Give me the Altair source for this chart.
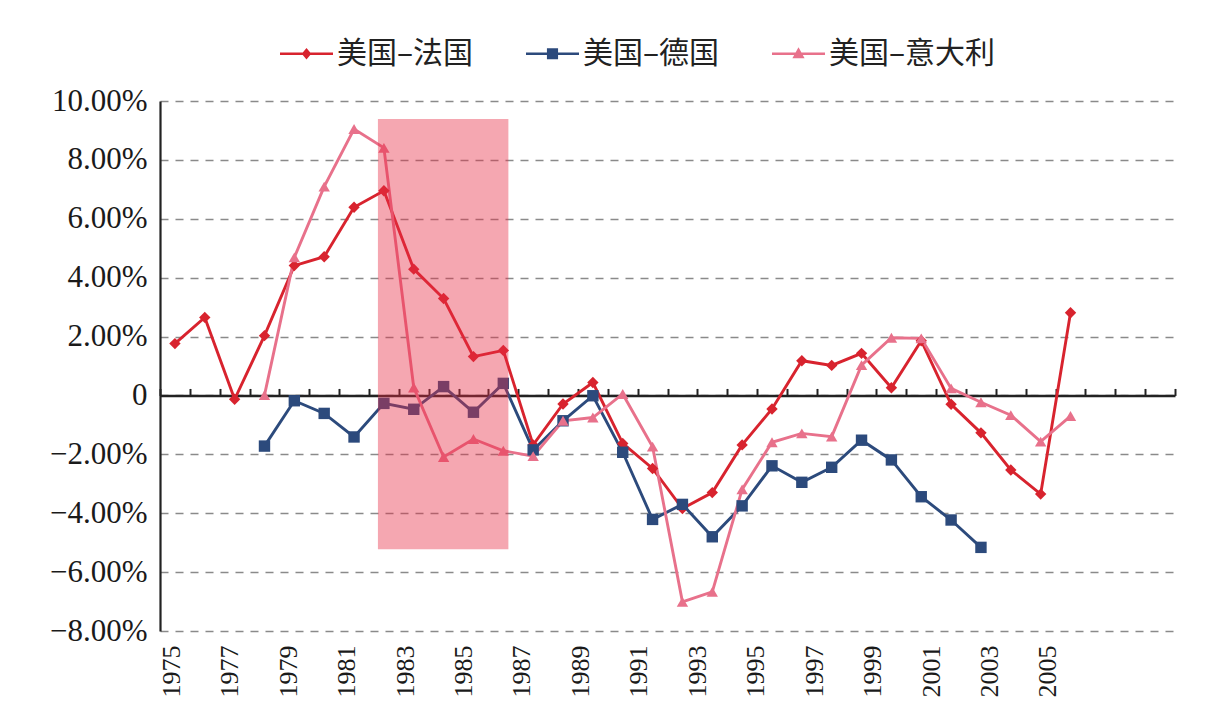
import altair as alt
import pandas as pd

# ---------------- data ----------------
SERIES = ["美国–法国", "美国–德国", "美国–意大利"]
COLORS = ["#D8232E", "#2C4A7C", "#E8718B"]
SHAPES = ["diamond", "square", "triangle-up"]

FR_YEARS = list(range(1975, 2006))
FRANCE = [1.76, 2.65, -0.13, 2.03, 4.41, 4.71, 6.39, 6.95, 4.29, 3.29, 1.32, 1.53,
          -1.68, -0.29, 0.44, -1.63, -2.48, -3.84, -3.30, -1.68, -0.46, 1.18, 1.02,
          1.43, 0.26, 1.86, -0.30, -1.27, -2.53, -3.35, 2.81]

DE_YEARS = list(range(1978, 2003))
GERMANY = [-1.72, -0.18, -0.61, -1.41, -0.27, -0.47, 0.30, -0.57, 0.41, -1.85, -0.86,
           -0.01, -1.93, -4.21, -3.70, -4.80, -3.75, -2.39, -2.95, -2.44, -1.52, -2.19,
           -3.44, -4.23, -5.16]

IT_YEARS = list(range(1978, 2006))
ITALY = [0.01, 4.69, 7.09, 9.05, 8.41, 0.27, -2.09, -1.48, -1.88, -2.06, -0.86, -0.75,
         0.05, -1.74, -7.01, -6.67, -3.19, -1.59, -1.29, -1.40, 1.03, 1.96, 1.94, 0.24,
         -0.23, -0.67, -1.57, -0.70]

Y_TICKS = [-8, -6, -4, -2, 0, 2, 4, 6, 8, 10]
X_DOMAIN = [1974.5, 2008.5]
X_LABEL_YEARS = list(range(1975, 2006, 2))
X_BOUNDARIES = [1974.5 + i for i in range(35)]

# shaded period
SHADE_START = [1981.8]
SHADE_END = [1986.17]
SHADE_TOP = [9.39]
SHADE_BOTTOM = [-5.22]

# legend symbols: a line segment with the series marker
LEGEND_PATHS = [
    "M-1,-0.05L1,-0.05L1,0.05L-1,0.05Z M0,-0.22L0.18,0L0,0.22L-0.18,0Z",
    "M-1,-0.05L1,-0.05L1,0.05L-1,0.05Z M-0.21,-0.21L0.21,-0.21L0.21,0.21L-0.21,0.21Z",
    "M-1,-0.05L1,-0.05L1,0.05L-1,0.05Z M0,-0.25L0.23,0.17L-0.23,0.17Z",
]

# ---------------- layout ----------------
W, H = 1015, 530
Y_MIN, Y_MAX = -8, 10
ZERO_OFFSET = -H * Y_MAX / (Y_MAX - Y_MIN)   # moves the top axis down to y = 0

# the printed year labels sit on a slightly narrower pitch than the points
LABEL_STRETCH = 0.9789
LABEL_SHIFT = -0.124
label_positions = [1975 + LABEL_SHIFT + (y - 1975) * LABEL_STRETCH for y in X_LABEL_YEARS]
label_expr = (f"format(1975 + round((datum.value - 1975 - ({LABEL_SHIFT})) / {LABEL_STRETCH}), 'd')")

rows = []
for name, yrs, vals in [(SERIES[0], FR_YEARS, FRANCE), (SERIES[1], DE_YEARS, GERMANY),
                        (SERIES[2], IT_YEARS, ITALY)]:
    for yr, v in zip(yrs, vals):
        rows.append({"series": name, "year": yr, "value": v})
df = pd.DataFrame(rows)

shade_df = pd.DataFrame({"x0": SHADE_START, "x1": SHADE_END, "y0": SHADE_BOTTOM, "y1": SHADE_TOP})

xscale = alt.Scale(domain=X_DOMAIN, nice=False, zero=False)
yscale = alt.Scale(domain=[Y_MIN, Y_MAX], nice=False, zero=False)

y_axis = alt.Axis(
    values=Y_TICKS,
    labelExpr="datum.value == 0 ? '0' : format(datum.value, '.2f') + '%'",
    grid=True, gridDash=[8, 7], gridColor="#8a8a8a", gridWidth=1.5,
    domain=True, domainColor="#222222", domainWidth=2.2,
    ticks=False, labelPadding=13,
    labelFont="Liberation Serif", labelFontSize=31, labelColor="#1a1a1a",
    title=None,
)

zero_axis = alt.Axis(
    orient="top", offset=ZERO_OFFSET, values=X_BOUNDARIES, labels=False,
    ticks=True, tickSize=7, tickWidth=2, tickColor="#222222",
    domain=True, domainColor="#222222", domainWidth=2.5, grid=False, title=None,
)

label_axis = alt.Axis(
    orient="bottom", values=label_positions, labelExpr=label_expr, labelAngle=270,
    labelFont="Liberation Serif", labelFontSize=26, labelColor="#1a1a1a",
    labelPadding=14, ticks=False, domain=False, grid=False,
    labelOverlap=False, labelFlush=False, title=None,
)

color_scale = alt.Scale(domain=SERIES, range=COLORS)

lines = alt.Chart(df).mark_line(strokeWidth=2.9).encode(
    x=alt.X("year:Q", scale=xscale, axis=zero_axis),
    y=alt.Y("value:Q", scale=yscale, axis=y_axis),
    color=alt.Color("series:N", scale=color_scale, legend=None),
)

points = alt.Chart(df).mark_point(filled=True, size=130, opacity=1).encode(
    x=alt.X("year:Q", scale=xscale, axis=label_axis),
    y=alt.Y("value:Q", scale=yscale, axis=y_axis),
    color=alt.Color("series:N", scale=color_scale, legend=None),
    shape=alt.Shape("series:N", scale=alt.Scale(domain=SERIES, range=SHAPES), legend=None),
)

shade = alt.Chart(shade_df).mark_rect(color="#E62D44", opacity=0.42).encode(
    x=alt.X("x0:Q", scale=xscale, axis=None),
    x2="x1:Q",
    y=alt.Y("y0:Q", scale=yscale, axis=y_axis),
    y2="y1:Q",
)

legend_props = dict(
    orient="none", legendX=120, legendY=-74, direction="horizontal", title=None,
    labelFont="Noto Sans CJK SC", labelFontSize=30, labelColor="#222222", labelLimit=400,
    symbolSize=2809, symbolStrokeWidth=0, symbolOpacity=1,
    columnPadding=52, labelOffset=4, padding=0,
)

legend_layer = alt.Chart(df).transform_filter("false").mark_point(filled=True, opacity=1).encode(
    color=alt.Color("series:N", scale=alt.Scale(domain=SERIES, range=COLORS),
                    legend=alt.Legend(**legend_props)),
    shape=alt.Shape("series:N", scale=alt.Scale(domain=SERIES, range=LEGEND_PATHS),
                    legend=alt.Legend(**legend_props)),
)

chart = (
    alt.layer(lines, points, shade, legend_layer)
    .resolve_scale(color="independent", shape="independent")
    .resolve_axis(x="independent")
    .properties(
        width=W, height=H,
        padding={"left": 160, "top": 101, "right": 51, "bottom": 85},
        autosize=alt.AutoSizeParams(type="none"),
        background="white",
    )
    .configure_view(strokeWidth=0)
)

chart.save("out.html", embed_options={"renderer": "svg", "actions": False})
